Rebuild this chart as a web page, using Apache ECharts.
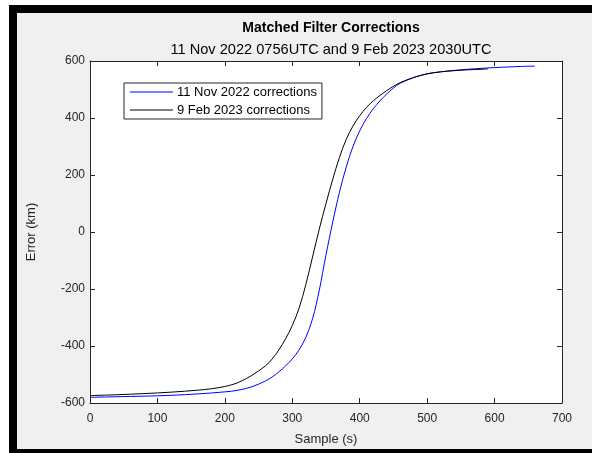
<!DOCTYPE html>
<html>
<head>
<meta charset="utf-8">
<script src="https://cdn.jsdelivr.net/npm/echarts@6/dist/echarts.min.js"></script>
<style>
html,body{margin:0;padding:0;background:#fff;}
#frame{position:absolute;left:9px;top:5px;width:583px;height:448px;background:#000;}
#panel{position:absolute;left:17px;top:13px;width:575px;height:436px;background:#f0f0f0;}
#chart{position:absolute;left:0;top:0;width:592px;height:453px;}
</style>
</head>
<body>
<div id="frame"></div>
<div id="panel"></div>
<div id="chart"></div>
<script>
// ---- data ----
const titleText = 'Matched Filter Corrections';
const subtitleText = '11 Nov 2022 0756UTC and 9 Feb 2023 2030UTC';
const xLabel = 'Sample (s)';
const yLabel = 'Error (km)';
const seriesNames = ['11 Nov 2022 corrections', '9 Feb 2023 corrections'];

const novX = [0,40,80,120,160,200,220,240,260,270,280,290,300,310,320,330,340,350,360,370,380,390,400,410,420,430,440,450,460,480,500,520,540,560,580,600,620,640,660];
const novY = [-580,-578,-576,-573,-568,-561,-555,-543,-523,-509,-491,-470,-445,-414,-370,-305,-205,-80,35,140,228,300,355,398,432,460,484,505,522,542,555,562,567,571,574,577,579,581,582];

const febX = [0,40,80,120,160,180,200,220,240,260,270,280,290,300,310,320,330,340,350,360,370,380,390,400,410,420,430,440,450,460,480,500,520,540,560,580,590];
const febY = [-574,-571,-567,-562,-555,-550,-542,-528,-503,-470,-446,-414,-375,-328,-268,-185,-88,10,100,185,262,325,372,408,437,460,479,496,511,524,542,555,562,566,569,571,572];

const zip = (xs, ys) => xs.map((x, i) => [x, ys[i]]);

const chart = echarts.init(document.getElementById('chart'), null, {renderer: 'canvas'});
const font = 'Liberation Sans, Arial, Helvetica, sans-serif';
const axisCol = '#262626';

const baseAxis = {
  axisLine: {show: true, onZero: false, lineStyle: {color: axisCol, width: 1}},
  axisTick: {show: true, inside: true, length: 5, lineStyle: {color: axisCol}},
  splitLine: {show: false}
};

chart.setOption({
  backgroundColor: 'transparent',
  animation: false,
  title: [
    {text: titleText, left: 326, top: 16, textAlign: 'center',
     textStyle: {fontFamily: font, fontSize: 14, fontWeight: 'bold', color: '#000'}},
    {text: subtitleText, left: 326, top: 37, textAlign: 'center',
     textStyle: {fontFamily: font, fontSize: 14.6, fontWeight: 'normal', color: '#000'}}
  ],
  legend: {
    orient: 'vertical', left: 124, top: 83,
    padding: [1, 5, 1, 6], itemGap: 2, itemWidth: 43, itemHeight: 1,
    borderColor: axisCol, borderWidth: 1, backgroundColor: '#fff',
    textStyle: {fontFamily: font, fontSize: 13, lineHeight: 16, color: '#000', padding: [0,0,0,-1]},
    data: seriesNames.map(n => ({name: n, icon: 'rect'}))
  },
  grid: {left: 90, right: 30, top: 61, bottom: 50, show: true, backgroundColor: '#fff', borderWidth: 0, containLabel: false},
  xAxis: [
    Object.assign({}, baseAxis, {
      type: 'value', min: 0, max: 700, interval: 100, position: 'bottom',
      axisLabel: {margin: 10, fontFamily: font, fontSize: 12, color: axisCol},
      name: xLabel, nameLocation: 'middle', nameGap: 30,
      nameTextStyle: {fontFamily: font, fontSize: 13, color: axisCol}
    }),
    Object.assign({}, baseAxis, {
      type: 'value', min: 0, max: 700, interval: 100, position: 'top',
      axisLabel: {show: false}
    })
  ],
  yAxis: [
    Object.assign({}, baseAxis, {
      type: 'value', min: -600, max: 600, interval: 200, position: 'left',
      axisLabel: {margin: 5, fontFamily: font, fontSize: 12, color: axisCol},
      name: yLabel, nameLocation: 'middle', nameGap: 52,
      nameTextStyle: {fontFamily: font, fontSize: 13, color: axisCol}
    }),
    Object.assign({}, baseAxis, {
      type: 'value', min: -600, max: 600, interval: 200, position: 'right',
      axisLabel: {show: false}
    })
  ],
  series: [
    {name: seriesNames[0], type: 'line', data: zip(novX, novY), symbol: 'none',
     smooth: 0.35,
     lineStyle: {color: '#0000ff', width: 1}, itemStyle: {color: '#0000ff'}},
    {name: seriesNames[1], type: 'line', data: zip(febX, febY), symbol: 'none',
     smooth: 0.35,
     lineStyle: {color: '#000000', width: 1}, itemStyle: {color: '#000000'}}
  ]
});
</script>
</body>
</html>
